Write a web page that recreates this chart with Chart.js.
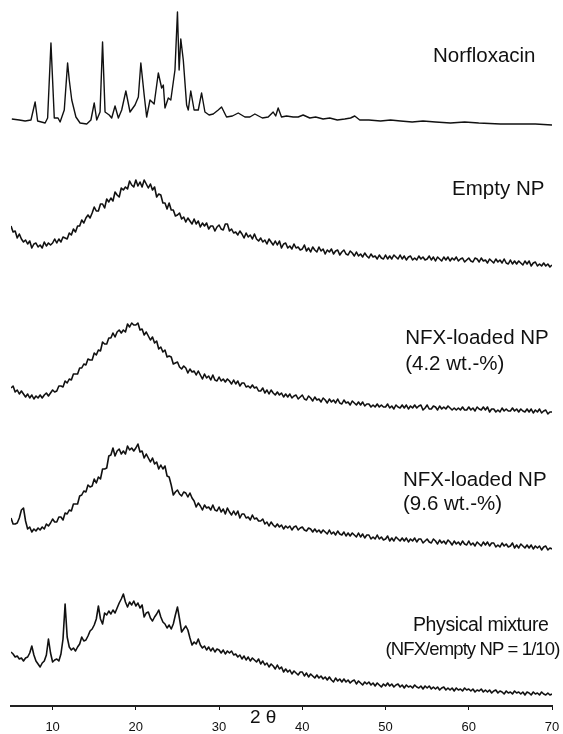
<!DOCTYPE html>
<html><head><meta charset="utf-8">
<script src="https://cdn.jsdelivr.net/npm/chart.js@4"></script>
<style>html,body{margin:0;padding:0;background:#fff}#wrap{width:563px;height:734px;position:relative}</style>
</head><body><div id="wrap"><canvas id="c"></canvas></div>
<script>
// x tick labels (2θ, degrees)
const xTicks = [10, 20, 30, 40, 50, 60, 70];

// common 2θ grid for the amorphous patterns: 5.00 ... 70.00 every 0.25°
const twoTheta = [];
for (let k = 0; k <= 260; k++) twoTheta.push(5 + k * 0.25);

// Norfloxacin (crystalline) – irregularly read points
const norfX = [5.1,6.0,6.7,7.4,7.9,8.2,9.1,9.4,9.8,10.2,10.65,10.9,11.4,11.8,12.0,12.3,12.8,13.3,14.1,14.6,15.0,15.3,15.7,16.0,16.3,16.8,17.1,17.5,17.9,18.3,18.8,19.3,19.9,20.3,20.6,21.0,21.3,21.7,22.2,22.7,23.1,23.3,23.5,23.9,24.2,24.5,24.7,25.0,25.2,25.4,25.7,26.1,26.3,26.6,27.0,27.5,27.9,28.3,28.8,29.3,29.9,30.3,30.9,31.6,32.3,33.1,33.7,34.3,35.2,35.9,36.5,36.8,37.1,37.5,38.1,38.9,39.5,40.1,40.9,41.6,42.5,43.3,44.2,45.1,45.8,46.3,46.9,48.0,49.4,50.6,51.8,53.2,54.5,56.0,57.8,59.5,61.2,63.8,66.0,68.0,70.0];
const norfI = [7,6,5,6,24,5,3,8,83,8,8,4,16,63,46,26,9,3,2,6,23,6,14,84,14,11,8,20,8,16,35,14,21,29,63,31,9,26,22,53,38,41,18,28,26,44,56,114,56,87,66,21,16,35,16,16,33,14,11,12,16,19,9,10,13,9,9,12,8,9,14,10,18,9,10,9,9,11,8,9,7,8,6,7,8,10,6,6,5,6,5,4,5,4,3,4,3,2,2,2,1];

// Empty NP
const emptyNP = [
 44,38,39,32,36,31,28,30,26,29,22,26,27,23,25,22,28,24,27,25,
 27,31,27,31,28,33,32,31,37,35,41,38,44,44,50,47,52,55,52,57,
 63,59,59,66,66,62,71,68,72,69,78,75,73,82,80,83,81,89,85,83,
 90,84,88,83,90,86,82,86,80,83,73,76,75,67,67,61,67,60,60,54,
 55,57,51,53,48,52,49,46,51,46,49,43,47,44,47,41,44,44,39,43,
 45,41,40,46,46,39,41,37,38,35,39,36,32,37,33,35,31,36,31,29,
 32,28,30,26,31,28,25,29,25,29,22,26,27,22,24,21,26,22,23,20,
 21,25,19,22,18,23,20,18,23,19,21,16,20,18,21,16,19,20,15,18,
 20,16,15,19,17,14,18,14,16,13,17,14,12,16,13,14,11,15,12,11,
 15,11,14,11,15,13,11,15,11,14,10,13,14,10,12,10,14,11,13,10,
 11,14,10,13,9,13,11,9,13,10,13,9,12,10,13,9,11,12,8,10,
 12,9,8,12,11,8,12,9,10,7,11,9,7,11,8,10,7,11,7,6,
 10,6,9,6,9,7,5,9,6,9,4,7,8,4,6,4,7,4,6,3,
 5];

// NFX-loaded NP (4.2 wt.-%)
const nfx42 = [
 26,28,22,24,20,23,20,17,20,16,19,15,18,16,19,16,19,21,18,21,
 24,22,23,28,28,27,33,31,35,34,40,40,40,46,46,50,49,55,54,54,
 61,59,64,63,72,70,70,76,76,81,77,82,84,81,84,82,90,87,91,89,
 89,91,84,85,79,82,78,74,77,71,73,65,67,62,64,57,58,57,50,51,
 52,47,45,48,46,41,45,42,43,39,43,39,35,40,36,38,34,39,34,33,
 37,33,35,32,35,33,30,34,30,33,28,31,31,27,28,26,29,26,27,23,
 23,26,21,24,20,24,21,19,22,19,21,17,20,17,20,16,18,19,15,17,
 19,15,14,18,16,13,17,14,15,12,16,14,11,15,12,14,11,15,11,10,
 14,11,12,9,13,11,9,12,9,12,8,10,10,7,9,7,10,7,9,7,
 7,10,6,8,5,9,7,6,9,6,9,5,8,6,9,6,8,9,4,6,
 9,5,5,8,7,4,8,5,7,5,8,6,4,6,4,6,4,7,4,4,
 7,4,6,3,7,5,4,7,4,7,2,5,5,2,4,2,6,3,5,3,
 3,6,3,5,2,5,3,2,5,2,5,1,4,2,5,1,3,4,0,2,
 2];

// NFX-loaded NP (9.6 wt.-%)
const nfx96 = [
 34,28,28,29,34,42,44,31,23,25,20,23,21,24,22,25,23,28,26,29,
 33,30,30,35,35,32,39,38,42,41,48,48,48,56,57,61,60,67,65,66,
 73,69,75,73,83,83,84,96,97,104,96,101,103,98,101,98,106,102,104,101,
 104,108,100,101,94,98,94,90,94,88,90,83,87,83,86,76,75,67,57,60,
 62,58,56,60,59,55,59,54,51,45,49,46,42,47,44,45,42,47,42,41,
 45,40,43,38,44,40,37,41,37,41,34,38,38,34,35,32,37,33,34,31,
 31,33,28,30,26,30,27,25,28,25,27,23,26,24,26,22,25,26,22,24,
 25,22,21,24,23,20,23,20,22,19,22,20,18,22,18,20,17,21,18,17,
 20,16,19,16,19,17,15,19,15,18,14,17,17,13,15,13,17,13,15,12,
 13,16,11,14,11,15,13,11,14,11,14,10,13,11,14,10,13,13,9,11,
 13,10,9,13,11,8,12,9,11,8,12,10,7,11,8,10,7,11,8,7,
 11,7,9,6,10,8,6,10,7,10,6,9,9,5,7,5,9,6,8,5,
 6,9,4,7,4,8,6,4,7,4,7,3,6,4,6,2,5,6,2,4,
 3];

// Physical mixture (NFX/empty NP = 1/10)
const mixture = [
 45,43,40,41,38,39,36,39,40,44,51,42,36,33,30,34,36,42,58,44,
 35,37,38,36,43,58,93,60,50,47,49,46,50,53,60,56,57,61,66,68,
 72,78,91,78,73,84,82,86,83,87,84,89,94,98,103,95,90,95,92,96,
 91,94,89,92,80,84,85,79,76,80,83,87,80,75,73,69,72,68,73,82,
 90,78,65,68,71,67,59,52,55,53,58,52,49,51,47,50,46,49,45,48,
 47,44,47,43,46,44,46,42,43,40,42,38,41,37,40,36,39,37,35,38,
 33,36,32,34,30,33,31,28,32,28,30,25,28,25,27,23,26,24,22,25,
 25,21,24,20,23,21,19,22,19,21,18,20,17,20,17,15,19,16,18,15,
 18,15,17,14,16,17,13,16,14,12,15,13,15,12,14,11,14,12,10,13,
 11,14,11,13,10,12,13,10,12,9,12,10,11,9,12,10,9,11,8,11,
 9,11,8,10,8,10,7,9,10,7,9,7,9,6,9,7,8,6,9,7,
 8,6,8,5,7,6,8,5,7,5,7,4,6,7,4,6,5,3,6,4,
 5,3,6,4,5,3,5,2,5,4,2,5,3,4,2,5,3,2,4,2,
 3];

const seriesNames = ['Norfloxacin','Empty NP','NFX-loaded NP (4.2 wt.-%)','NFX-loaded NP (9.6 wt.-%)','Physical mixture'];
const traceOffsets = [580, 436, 292, 154, 9];

// text labels next to each pattern: text, 2θ position, intensity-scale baseline
const labelText = ['Norfloxacin','Empty NP','NFX-loaded NP','(4.2 wt.-%)','NFX-loaded NP','(9.6 wt.-%)','Physical mixture','(NFX/empty NP = 1/10)'];
const labelX = [55.7, 58.0, 52.36, 52.36, 52.1, 52.1, 53.3, 50.0];
const labelY = [644, 511, 362, 336, 220, 196, 75, 51];
const labelSize = [20.5, 20.5, 20.5, 20.5, 20.5, 20.5, 19.5, 18.5];
const labelSpacing = [0, 0, 0, 0, 0, 0, -0.4, -0.9];
const axisTitle = '2 θ';

const xsList = [norfX, twoTheta, twoTheta, twoTheta, twoTheta];
const ysList = [norfI, emptyNP, nfx42, nfx96, mixture];

const datasets = ysList.map((ys, i) => ({
  label: seriesNames[i],
  data: ys.map((v, j) => ({ x: xsList[i][j], y: v + traceOffsets[i] })),
  borderColor: '#111',
  borderWidth: i === 0 ? 1.4 : 1.6,
  borderJoinStyle: 'round',
  pointRadius: 0,
  tension: 0,
  fill: false
}));

const textPlugin = {
  id: 'textPlugin',
  afterDraw(chart) {
    const c = chart.ctx, xs = chart.scales.x, ys = chart.scales.y;
    c.save();
    c.fillStyle = '#111';
    c.textAlign = 'left';
    c.textBaseline = 'alphabetic';
    labelText.forEach((t, i) => {
      c.font = labelSize[i] + 'px "Liberation Sans", Arial, sans-serif';
      c.letterSpacing = labelSpacing[i] + 'px';
      c.fillText(t, xs.getPixelForValue(labelX[i]), ys.getPixelForValue(labelY[i]));
    });
    c.letterSpacing = '0px';
    c.font = '19px "Liberation Sans", Arial, sans-serif';
    c.textAlign = 'center';
    c.textBaseline = 'middle';
    c.fillText(axisTitle, xs.getPixelForValue(35.3), xs.top + 12);
    c.restore();
  }
};

new Chart(document.getElementById('c'), {
  type: 'line',
  data: { datasets },
  options: {
    responsive: true,
    maintainAspectRatio: false,
    animation: false,
    layout: { padding: { left: 11, right: 11, top: 0, bottom: 0 } },
    plugins: { legend: { display: false }, tooltip: { enabled: false } },
    scales: {
      x: {
        type: 'linear', min: 5, max: 70,
        afterBuildTicks: s => { s.ticks = xTicks.map(v => ({ value: v })); },
        afterFit: s => { s.height = 28; s.paddingLeft = 0; s.paddingRight = 0; },
        grid: { drawOnChartArea: false, drawTicks: true, tickLength: 4, color: '#111', lineWidth: 1 },
        border: { display: true, color: '#222', width: 2 },
        ticks: { color: '#111', font: { family: '"Liberation Sans", Arial, sans-serif', size: 13 }, padding: 10, maxRotation: 0, autoSkip: false }
      },
      y: { type: 'linear', min: 0, max: 706, display: false }
    }
  },
  plugins: [textPlugin]
});
</script></body></html>
